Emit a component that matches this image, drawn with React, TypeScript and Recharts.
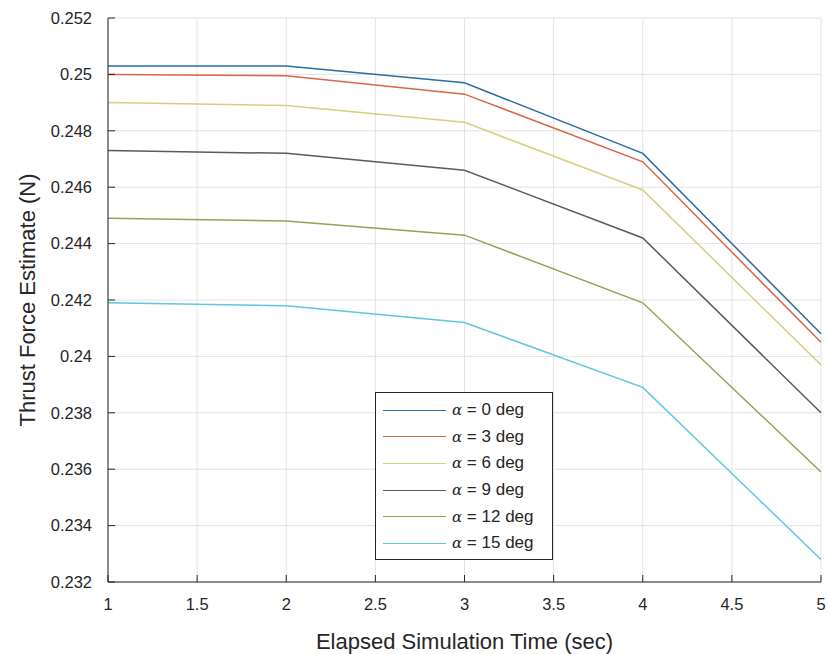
import { LineChart, Line, XAxis, YAxis, CartesianGrid } from 'recharts';

// Elapsed time samples (sec)
const TIMES = [1, 2, 3, 4, 5];

// Thrust force estimates (N) per angle of attack
const ALPHA_0 = [0.2503, 0.2503, 0.2497, 0.2472, 0.2408];
const ALPHA_3 = [0.25, 0.24995, 0.2493, 0.2469, 0.2405];
const ALPHA_6 = [0.249, 0.2489, 0.2483, 0.2459, 0.2397];
const ALPHA_9 = [0.2473, 0.2472, 0.2466, 0.2442, 0.238];
const ALPHA_12 = [0.2449, 0.2448, 0.2443, 0.2419, 0.2359];
const ALPHA_15 = [0.2419, 0.2418, 0.2412, 0.2389, 0.2328];

const X_TICKS = [1, 1.5, 2, 2.5, 3, 3.5, 4, 4.5, 5];
const Y_TICKS = [0.232, 0.234, 0.236, 0.238, 0.24, 0.242, 0.244, 0.246, 0.248, 0.25, 0.252];

const SERIES = [
  { key: 'a0', label: '0 deg', values: ALPHA_0, color: '#2b6da6' },
  { key: 'a3', label: '3 deg', values: ALPHA_3, color: '#d8674a' },
  { key: 'a6', label: '6 deg', values: ALPHA_6, color: '#d6cf7e' },
  { key: 'a9', label: '9 deg', values: ALPHA_9, color: '#5c5868' },
  { key: 'a12', label: '12 deg', values: ALPHA_12, color: '#9a9f5c' },
  { key: 'a15', label: '15 deg', values: ALPHA_15, color: '#62c6df' },
];

const data = TIMES.map((t, i) => {
  const row: Record<string, number> = { t };
  SERIES.forEach((s) => {
    row[s.key] = s.values[i];
  });
  return row;
});

const FONT = '"Liberation Sans", Arial, Helvetica, sans-serif';
const INK = '#262626';
const TICK_LEN = 7;
const MARGIN = 16;

function fmt(v: number): string {
  return String(Number(v.toFixed(3)));
}

// MATLAB-style ticks: label outside, tick mark pointing into the axes
function LeftTick(props: any) {
  const { x, y, payload } = props;
  const ax = x + MARGIN;
  return (
    <g>
      <line x1={ax} x2={ax + TICK_LEN} y1={y} y2={y} stroke={INK} />
      <text x={x} y={y} dy="0.35em" textAnchor="end" fill={INK} fontSize={16.5} fontFamily={FONT}>
        {fmt(payload.value)}
      </text>
    </g>
  );
}

function BottomTick(props: any) {
  const { x, y, payload } = props;
  const ay = y - MARGIN;
  return (
    <g>
      <line x1={x} x2={x} y1={ay} y2={ay - TICK_LEN} stroke={INK} />
      <text x={x} y={y} dy="0.72em" textAnchor="middle" fill={INK} fontSize={16.5} fontFamily={FONT}>
        {fmt(payload.value)}
      </text>
    </g>
  );
}

function TopTick(props: any) {
  const { x, y } = props;
  return <line x1={x} x2={x} y1={y} y2={y + TICK_LEN} stroke={INK} />;
}

function RightTick(props: any) {
  const { x, y } = props;
  return <line x1={x} x2={x - TICK_LEN} y1={y} y2={y} stroke={INK} />;
}

function YTitle(props: any) {
  const { viewBox } = props;
  const cx = viewBox.x + 27;
  const cy = viewBox.y + viewBox.height / 2;
  return (
    <text x={cx} y={cy} transform={`rotate(-90, ${cx}, ${cy})`} textAnchor="middle" dominantBaseline="central"
      fill={INK} fontSize={22} fontFamily={FONT}>
      Thrust Force Estimate (N)
    </text>
  );
}

function XTitle(props: any) {
  const { viewBox } = props;
  return (
    <text x={viewBox.x + viewBox.width / 2} y={viewBox.y + 67} textAnchor="middle" fill={INK} fontSize={22} fontFamily={FONT}>
      Elapsed Simulation Time (sec)
    </text>
  );
}

// Legend box sitting inside the axes, in series order
function LegendBox() {
  return (
    <div
      style={{
        position: 'absolute',
        left: 375,
        top: 392,
        width: 178,
        height: 168,
        border: `1px solid ${INK}`,
        background: '#fff',
        boxSizing: 'border-box',
        paddingTop: 4,
      }}
    >
      {SERIES.map((s) => (
        <div key={s.key} style={{ display: 'flex', alignItems: 'center', height: 26.6 }}>
          <div style={{ width: 63, height: 0, borderTop: `1.5px solid ${s.color}`, marginLeft: 7, marginRight: 6 }} />
          <span style={{ fontFamily: FONT, fontSize: 17, color: INK, whiteSpace: 'nowrap' }}>
            <span style={{ fontStyle: 'italic', fontFamily: '"DejaVu Serif", serif', fontSize: 15 }}>α</span> = {s.label}
          </span>
        </div>
      ))}
    </div>
  );
}

export default function App() {
  return (
    <div style={{ position: 'absolute', left: 0, top: 0, width: 828, height: 654, background: '#fff' }}>
      <LineChart width={828} height={654} data={data} margin={{ top: 18, right: 7, bottom: 0, left: 0 }}>
        <CartesianGrid stroke="#e3e3e3" strokeWidth={1} />
        <XAxis
          dataKey="t"
          type="number"
          domain={[1, 5]}
          ticks={X_TICKS}
          height={72}
          tickLine={false}
          tickSize={0}
          tickMargin={MARGIN}
          axisLine={{ stroke: INK }}
          tick={<BottomTick />}
          label={<XTitle />}
        />
        <XAxis
          xAxisId="top"
          orientation="top"
          dataKey="t"
          type="number"
          domain={[1, 5]}
          ticks={X_TICKS}
          height={0}
          tickLine={false}
          tickSize={0}
          tickMargin={0}
          axisLine={{ stroke: INK }}
          tick={<TopTick />}
        />
        <YAxis
          type="number"
          domain={[0.232, 0.252]}
          ticks={Y_TICKS}
          width={108}
          tickLine={false}
          tickSize={0}
          tickMargin={MARGIN}
          axisLine={{ stroke: INK }}
          tick={<LeftTick />}
          label={<YTitle />}
          allowDataOverflow
        />
        <YAxis
          yAxisId="right"
          orientation="right"
          type="number"
          domain={[0.232, 0.252]}
          ticks={Y_TICKS}
          width={0}
          tickLine={false}
          tickSize={0}
          tickMargin={0}
          axisLine={{ stroke: INK }}
          tick={<RightTick />}
          allowDataOverflow
        />
        {SERIES.map((s) => (
          <Line
            key={s.key}
            dataKey={s.key}
            name={s.label}
            type="linear"
            stroke={s.color}
            strokeWidth={1.5}
            dot={false}
            activeDot={false}
            isAnimationActive={false}
          />
        ))}
      </LineChart>
      <LegendBox />
    </div>
  );
}
